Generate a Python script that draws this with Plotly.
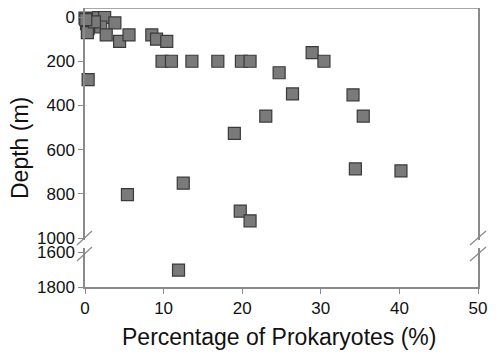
import numpy as np
import plotly.graph_objects as go

# Percentage of prokaryotes (%) and depth (m)
pct = [0.0, 0.7, 1.7, 2.5, 0.2, 0.4, 0.3, 2.0, 3.8, 2.7, 4.4, 5.6, 8.5, 9.1, 10.4,
       9.8, 11.0, 13.6, 16.9, 19.9, 21.0, 28.9, 30.4, 24.7, 26.4, 34.1, 23.0, 35.4,
       19.0, 34.4, 40.2, 5.4, 12.5, 19.75, 21.0, 0.4, 11.9, 1.2, 0.1]
depth = [5, 8, 3, 2, 30, 52, 70, 45, 26, 81, 110, 81, 81, 100, 110,
         200, 200, 200, 200, 200, 200, 161, 200, 252, 348, 352, 448, 448,
         526, 687, 696, 804, 752, 878, 922, 283, 1703, 22, 12]

x_ticks = [0, 10, 20, 30, 40, 50]
upper_ticks = [0, 200, 400, 600, 800, 1000]
lower_ticks = [1600, 1800]

pct_a = np.array(pct)
depth_a = np.array(depth)
up = depth_a <= 1000
lo = depth_a >= 1500

# page has an 8px body margin: work in figure pixels = window pixels - 8
W, H = 480, 342
L, R, T, B = 77, 10, 0, 63
pw, ph = W - L - R, H - T - B

def py(p):  # figure pixel y -> paper y
    return (H - B - p) / ph

def px(p):  # figure pixel x -> paper x
    return (p - L) / pw

marker = dict(symbol="square", size=12, color="#7a7a7a",
              line=dict(color="#3a3a3a", width=1.2))
font = dict(family="Liberation Sans, Arial, sans-serif", color="#111")
axcol = "#8a8a8a"

fig = go.Figure()
fig.add_trace(go.Scatter(x=pct_a[up], y=depth_a[up], mode="markers", marker=marker,
                         xaxis="x", yaxis="y", cliponaxis=False, showlegend=False))
fig.add_trace(go.Scatter(x=pct_a[lo], y=depth_a[lo], mode="markers", marker=marker,
                         xaxis="x", yaxis="y2", cliponaxis=False, showlegend=False))

common = dict(showline=True, linecolor=axcol, linewidth=1.5, ticks="outside",
              ticklen=5, tickcolor=axcol, showgrid=False, zeroline=False,
              automargin=False, ticklabeloverflow="allow",
              tickfont=dict(size=17, **font))

fig.update_layout(
    width=W, height=H, margin=dict(l=L, r=R, t=T, b=B, autoexpand=False),
    paper_bgcolor="white", plot_bgcolor="white",
    font=dict(size=17, **font),
    xaxis=dict(range=[0, 50], tickvals=x_ticks, anchor="y2", **common),
    yaxis=dict(domain=[py(232), 1], range=[1009, -41], tickvals=upper_ticks,
               mirror=True, anchor="x", **common),
    yaxis2=dict(domain=[0, py(240)], range=[1800, 1577], tickvals=lower_ticks,
                mirror=True, anchor="x", **common),
)

shapes = [dict(type="line", xref="paper", yref="paper", x0=0, x1=1, y0=1, y1=1,
               line=dict(color=axcol, width=1.5))]
for xa, xb in [(69, 84), (462, 478)]:
    shapes.append(dict(type="line", xref="paper", yref="paper",
                       x0=px(xa), x1=px(xb), y0=py(237), y1=py(223),
                       line=dict(color=axcol, width=1.2)))
    shapes.append(dict(type="line", xref="paper", yref="paper",
                       x0=px(xa), x1=px(xb), y0=py(253), y1=py(239),
                       line=dict(color=axcol, width=1.2)))
fig.update_layout(shapes=shapes)

fig.add_annotation(text="Percentage of Prokaryotes (%)", xref="paper", yref="paper",
                   x=px(271), y=py(329), xanchor="center", yanchor="middle",
                   showarrow=False, font=dict(size=23, **font))
fig.add_annotation(text="Depth (m)", xref="paper", yref="paper",
                   x=px(12), y=py(140), xanchor="center", yanchor="middle",
                   showarrow=False, textangle=-90, font=dict(size=23, **font))

fig.write_html("out.html")
